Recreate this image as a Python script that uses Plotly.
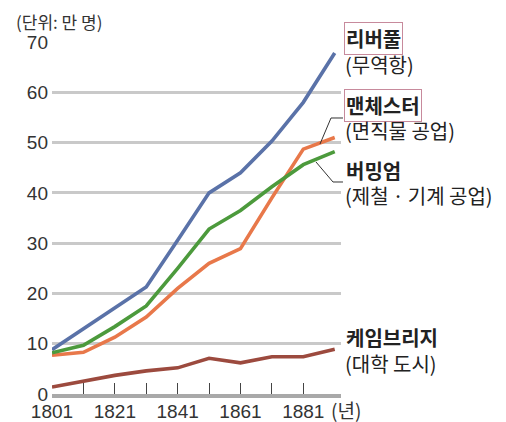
import plotly.graph_objects as go

years = [1801, 1811, 1821, 1831, 1841, 1851, 1861, 1871, 1881, 1891]
liverpool = [8.8, 13.0, 17.2, 21.3, 30.6, 40.0, 44.0, 50.3, 58.0, 67.8]
manchester = [7.7, 8.3, 11.3, 15.3, 21.0, 26.0, 28.9, 39.0, 48.7, 51.0]
birmingham = [8.2, 9.7, 13.4, 17.5, 25.0, 32.8, 36.5, 41.2, 45.6, 48.2]
cambridge = [1.4, 2.6, 3.7, 4.6, 5.2, 7.1, 6.2, 7.4, 7.4, 8.9]

series_names = ["리버풀", "맨체스터", "버밍엄", "케임브리지"]
series_sub = ["(무역항)", "(면직물 공업)", "(제철\u2009·\u2009기계 공업)", "(대학 도시)"]
colors = ["#5a72a8", "#e8784a", "#4c9a3c", "#9c4a3e"]

x_tickvals = [1801, 1811, 1821, 1831, 1841, 1851, 1861, 1871, 1881]
x_ticktext = ["1801", "", "1821", "", "1841", "", "1861", "", "1881"]
y_tickvals = [0, 10, 20, 30, 40, 50, 60, 70]

NUM_FONT = "Liberation Sans Narrow, Liberation Sans, Arial, sans-serif"
KR_FONT = "Noto Sans CJK KR, sans-serif"

fig = go.Figure()
for vals, col in zip([liverpool, manchester, birmingham, cambridge], colors):
    fig.add_trace(go.Scatter(x=years, y=vals, mode="lines",
                             line=dict(color=col, width=3.6), hoverinfo="skip"))

# page body has an 8px default margin; screen-pixel geometry of the plot area
OFF = 8
L, R, T, B = 52, 341, 42, 394
W, H = 506, 422
def px(x):
    return (x - L) / (R - L)
def py(y):
    return (B - y) / (B - T)

label_pos = [(39, 65, True), (106, 130, True), (170, 195, False), (337, 363, False)]
for name, sub, (y1, y2, boxed) in zip(series_names, series_sub, label_pos):
    fig.add_annotation(xref="paper", yref="paper", x=px(344), y=py(y1),
                       xanchor="left", yanchor="middle", showarrow=False,
                       text="<b>%s</b>" % name,
                       font=dict(family=KR_FONT, size=20, color="#222"),
                       bordercolor="#c78a9c" if boxed else "rgba(0,0,0,0)",
                       borderwidth=1, borderpad=1)
    fig.add_annotation(xref="paper", yref="paper", x=px(343), y=py(y2),
                       xanchor="left", yanchor="middle", showarrow=False,
                       text=sub,
                       font=dict(family=KR_FONT, size=20, color="#222"))

# leader lines
leaders = [[(343, 118), (331, 118), (320, 144)],
           [(316, 162), (333, 182), (343, 182)]]
for pts in leaders:
    path = "M " + " L ".join("%f,%f" % (px(a), py(b)) for a, b in pts)
    fig.add_shape(type="path", xref="paper", yref="paper", path=path,
                  line=dict(color="#333", width=1))

fig.add_annotation(xref="paper", yref="paper", x=px(14), y=py(22),
                   xanchor="left", yanchor="middle", showarrow=False,
                   text="(단위: 만 명)",
                   font=dict(family=KR_FONT, size=17, color="#333"))
fig.add_annotation(xref="paper", yref="paper", x=px(329), y=py(409),
                   xanchor="left", yanchor="middle", showarrow=False,
                   text="(년)",
                   font=dict(family=KR_FONT, size=19, color="#333"))

fig.update_layout(
    width=W, height=H,
    margin=dict(l=L - OFF, r=W - (R - OFF), t=T - OFF, b=H - (B - OFF),
                autoexpand=False),
    paper_bgcolor="white", plot_bgcolor="white",
    showlegend=False,
    xaxis=dict(range=[1801, 1893], tickvals=x_tickvals, ticktext=x_ticktext,
               ticks="inside", ticklen=11, tickwidth=1, tickcolor="#444",
               showgrid=False, zeroline=False, showline=True,
               linecolor="#a9a9a9", linewidth=4, automargin=False,
               ticklabelstandoff=-3,
               tickfont=dict(family=NUM_FONT, size=19, color="#333")),
    yaxis=dict(range=[0, 70], tickvals=y_tickvals, showgrid=True,
               gridcolor="#c9c9c9", gridwidth=3, zeroline=False,
               showline=False, ticks="", automargin=False,
               ticklabelstandoff=3,
               tickfont=dict(family=NUM_FONT, size=19, color="#333")),
)

fig.write_html("out.html")
